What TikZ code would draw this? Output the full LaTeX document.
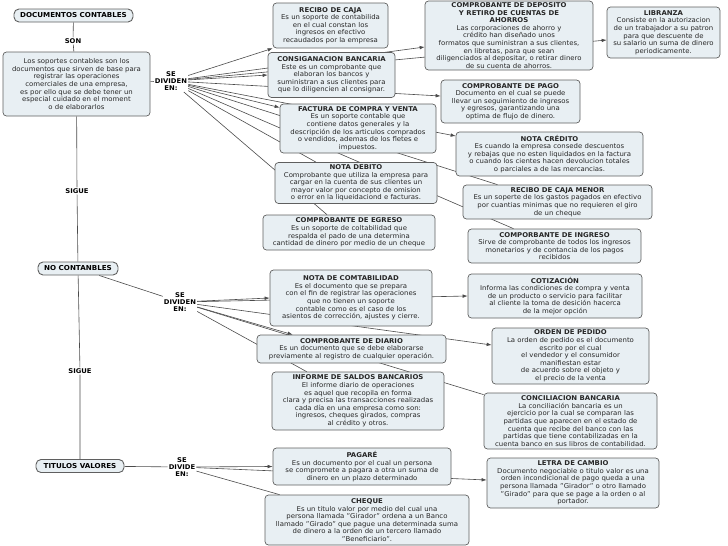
\documentclass[tikz,border=0pt]{standalone}
\usepackage{fontspec}
\setmainfont{DejaVu Sans}[FakeStretch=1.05]
\usetikzlibrary{arrows.meta,backgrounds,calc}
\definecolor{boxfill}{RGB}{232,239,243}
\definecolor{boxline}{RGB}{95,95,95}
\definecolor{connline}{RGB}{75,75,75}
\tikzset{
  cbox/.style={draw=boxline, fill=boxfill, rounded corners=3.5pt, line width=0.7pt,
    align=center, inner xsep=2pt, inner ysep=1.2pt, text=black!85, font=\fontsize{6.6}{7.6}\selectfont},
  tagbox/.style={draw=boxline, fill=boxfill, rounded corners=5pt, line width=0.9pt,
    inner sep=2pt, font=\bfseries\fontsize{6.8}{7.6}\selectfont},
  phrase/.style={align=center, inner sep=1pt, font=\bfseries\fontsize{6.5}{7.4}\selectfont},
  conn/.style={draw=connline, line width=0.6pt},
  connarrow/.style={conn, -{Latex[length=5pt,width=3.6pt]}}
}
\begin{document}
\begin{tikzpicture}[x=1pt,y=-1pt]
  \useasboundingbox (0,0) rectangle (728,546);

  % Main column
  \node[tagbox, minimum width=119, minimum height=13] (doc) at (73.5,15.5) {DOCUMENTOS CONTABLES};
  \node[phrase] (son) at (73,41) {SON};
  \node[cbox, minimum width=147, minimum height=64] (sop) at (76.5,84)
    {Los soportes contables son los\\documentos que sirven de base para\\registrar las operaciones\\comerciales de una empresa,\\es por ello que se debe tener un\\especial cuidado en el moment\\o de elaborarlos};
  \node[phrase] (sigueA) at (77,191) {SIGUE};
  \node[tagbox, minimum width=80, minimum height=13] (nocont) at (78,268.5) {NO CONTANBLES};
  \node[phrase] (sigueB) at (80,371) {SIGUE};
  \node[tagbox, minimum width=88, minimum height=13] (titulos) at (80,466) {TITULOS VALORES};

  % Linking phrases
  \node[phrase] (divA) at (171,81) {SE\\DIVIDEN\\EN:};
  \node[phrase] (divB) at (180,302) {SE\\DIVIDEN\\EN:};
  \node[phrase] (divC) at (182,467) {SE\\DIVIDE\\EN:};

  % Contables
  \node[cbox, minimum width=115, minimum height=45] (recibo) at (330.5,25.5)
    {\textbf{RECIBO DE CAJA}\\Es un soporte de contabilida\\en el cual constan los\\ingresos en efectivo\\recaudados por la empresa};
  \node[cbox, minimum width=127, minimum height=45] (consig) at (331.5,75)
    {\textbf{CONSIGANACION BANCARIA}\\Este es un comprobante que\\elaboran los bancos y\\suministran a sus clientes para\\que lo diligencien al consignar.};
  \node[cbox, minimum width=168, minimum height=69] (deposito) at (509,35.5)
    {\textbf{COMPROBANTE DE DEPOSITO}\\\textbf{Y RETIRO DE CUENTAS DE}\\\textbf{AHORROS}\\Las corporaciones de ahorro y\\crédito han diseñado unos\\formatos que suministran a sus clientes,\\en libretas, para que sean\\diligenciados al depositar, o retirar dinero\\de su cuenta de ahorros.};
  \node[cbox, minimum width=113, minimum height=51] (libranza) at (663.5,32.5)
    {\textbf{LIBRANZA}\\Consiste en la autorizacion\\de un trabajador a su patron\\para que descuente de\\su salario un suma de dinero\\periodicamente.};
  \node[cbox, minimum width=139, minimum height=43] (pago) at (510.5,101.5)
    {\textbf{COMPROBANTE DE PAGO}\\Documento en el cual se puede\\llevar un seguimiento de ingresos\\y egresos, garantizando una\\optima de flujo de dinero.};
  \node[cbox, minimum width=156, minimum height=49] (factura) at (358,128.5)
    {\textbf{FACTURA DE COMPRA Y VENTA}\\Es un soporte contable que\\contiene datos generales y la\\descripción de los articulos comprados\\o vendidos, ademas de los fletes e\\impuestos.};
  \node[cbox, minimum width=187, minimum height=44] (credito) at (549.5,154)
    {\textbf{NOTA CRÉDITO}\\Es cuando la empresa consede descuentos\\y rebajas que no esten liquidados en la factura\\o cuando los cientes hacen devolucion totales\\o parciales a de las mercancias.};
  \node[cbox, minimum width=162, minimum height=41] (debito) at (356,183)
    {\textbf{NOTA DEBITO}\\Comprobante que utiliza la empresa para\\cargar en la cuenta de sus clientes un\\mayor valor por concepto de omision\\o error en la liqueidaciond e facturas.};
  \node[cbox, minimum width=189, minimum height=34] (cajamenor) at (557.5,202)
    {\textbf{RECIBO DE CAJA MENOR}\\Es un soperte de los gastos pagados en efectivo\\por cuantias minimas que no requieren el giro\\de un cheque};
  \node[cbox, minimum width=172, minimum height=35] (egreso) at (349,232.5)
    {\textbf{COMPROBANTE DE EGRESO}\\Es un soporte de coltabilidad que\\respalda el pado de una determina\\cantidad de dinero por medio de un cheque};
  \node[cbox, minimum width=173, minimum height=34] (ingreso) at (554.5,246)
    {\textbf{COMPORBANTE DE INGRESO}\\Sirve de comprobante de todos los ingresos\\monetarios y de contancia de los pagos\\recibidos};

  % No contables
  \node[cbox, minimum width=162, minimum height=56] (notacont) at (351,298)
    {\textbf{NOTA DE COMTABILIDAD}\\Es el documento que se prepara\\con el fin de registrar las operaciones\\que no tienen un soporte\\contable como es el caso de los\\asientos de corrección, ajustes y cierre.};
  \node[cbox, minimum width=174, minimum height=44] (cotiz) at (555,296)
    {\textbf{COTIZACIÓN}\\Informa las condiciones de compra y venta\\de un producto o servicio para facilitar\\al cliente la toma de desición hacerca\\de la mejor opción};
  \node[cbox, minimum width=157, minimum height=56] (orden) at (570.5,356)
    {\textbf{ORDEN DE PEDIDO}\\La orden de pedido es el documento\\escrito por el cual\\el vendedor y el consumidor\\manifiestan estar\\de acuerdo sobre el objeto y\\el precio de la venta};
  \node[cbox, minimum width=189, minimum height=28] (diario) at (351.5,349)
    {\textbf{COMPROBANTE DE DIARIO}\\Es un documento que se debe elaborarse\\previamente al registro de cualquier operación.};
  \node[cbox, minimum width=172, minimum height=58] (informe) at (358,401)
    {\textbf{INFORME DE SALDOS BANCARIOS}\\El informe diario de operaciones\\es aquel que recopila en forma\\clara y precisa las transacciones realizadas\\cada día en una empresa como son:\\ingresos, cheques girados, compras\\al crédito y otros.};
  \node[cbox, minimum width=173, minimum height=56] (concil) at (570.5,421)
    {\textbf{CONCILIACION BANCARIA}\\La conciliación bancaria es un\\ejercicio por la cual se comparan las\\partidas que aparecen en el estado de\\cuenta que recibe del banco con las\\partidas que tiene contabilizadas en la\\cuenta banco en sus libros de contabilidad.};

  % Titulos valores
  \node[cbox, minimum width=178, minimum height=37] (pagare) at (362,466.5)
    {\textbf{PAGARÉ}\\Es un documento por el cual un persona\\se compromete a pagara a otra un suma de\\dinero en un plazo determinado};
  \node[cbox, minimum width=172, minimum height=50] (letra) at (573,483)
    {\textbf{LETRA DE CAMBIO}\\Documento negociable o titulo valor es una\\orden incondicional de pago queda a una\\persona llamada "Girador" o otro llamado\\"Girado" para que se page a la orden o al\\portador.};
  \node[cbox, minimum width=204, minimum height=50] (cheque) at (367,520)
    {\textbf{CHEQUE}\\Es un titulo valor por medio del cual una\\persona llamada "Girador" ordena a un Banco\\llamado "Girado" que pague una determinada suma\\de dinero a la orden de un tercero llamado\\"Beneficiario".};

  \begin{pgfonlayer}{background}
    % Column links
    \draw[conn] (doc) -- (son) -- (sop);
    \draw[conn] (sop) -- (sigueA) -- (nocont) -- (sigueB) -- (titulos);
    \draw[conn] (sop) -- (divA);
    \draw[conn] (nocont) -- (divB);
    \draw[conn] (titulos) -- (divC);

    % Se dividen en (contables)
    \draw[connarrow] (divA) -- (recibo.south west);
    \draw[connarrow] (divA) -- (consig.west);
    \draw[connarrow] (divA) -- ($(deposito.west)+(0,11.5)$);
    \draw[connarrow] (divA) -- ($(libranza.west)+(0,7.5)$);
    \draw[connarrow] (divA) -- ($(pago.west)+(0,-5.5)$);
    \draw[connarrow] (divA) -- ($(factura.west)+(0,-21)$);
    \draw[connarrow] (divA) -- ($(credito.west)+(0,-18)$);
    \draw[conn] (divA) -- ($(debito.north)+(-40,0)$);
    \draw[conn] (divA) -- ($(egreso.north)+(-22,0)$);
    \draw[conn] (divA) -- ($(cajamenor.north)+(-60,0)$);
    \draw[conn] (divA) -- ($(ingreso.north)+(-41,0)$);

    % Se dividen en (no contables)
    \draw[connarrow] (divB) -- (notacont.west);
    \draw[connarrow] (divB) -- (cotiz.west);
    \draw[connarrow] (divB) -- ($(orden.west)+(0,-11)$);
    \draw[connarrow] (divB) -- ($(diario.north west)+(36,0)$);
    \draw[conn] (divB) -- ($(informe.north west)+(35,0)$);
    \draw[conn] (divB) -- ($(concil.north west)+(0,2)$);

    % Se divide en (titulos valores)
    \draw[connarrow] (divC) -- (pagare.west);
    \draw[connarrow] (divC) -- ($(letra.west)+(0,-3)$);
    \draw[conn] (divC) -- ($(cheque.north west)+(15,0)$);
  \end{pgfonlayer}
\end{tikzpicture}
\end{document}
